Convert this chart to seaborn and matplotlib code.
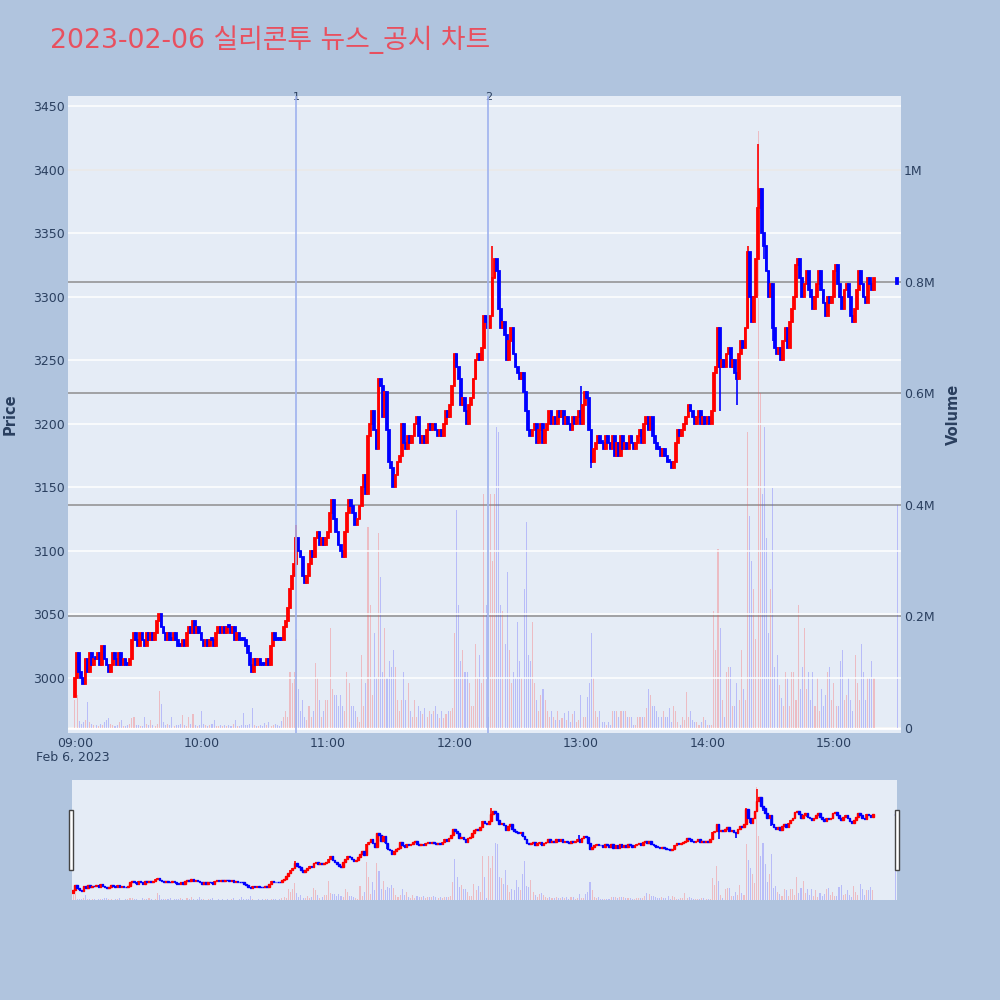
import numpy as np
import pandas as pd
import seaborn as sns
import matplotlib.pyplot as plt
from matplotlib.patches import Rectangle
import matplotlib.transforms as mtransforms

sns.set_theme(style="darkgrid")
plt.rcParams['font.family'] = ['DejaVu Sans', 'Noto Sans CJK KR']

title = "2023-02-06 실리콘투 뉴스_공시 차트"
session_start = "2023-02-06 09:00"
first_open = 2985

# 1-minute closes from 09:00
close_px = [
    3000, 3020, 3005, 3000, 2995, 3015, 3005, 3020, 3010, 3015,
    3015, 3020, 3010, 3025, 3015, 3010, 3005, 3010, 3020, 3015,
    3010, 3020, 3010, 3015, 3010, 3010, 3015, 3030, 3035, 3030,
    3025, 3035, 3030, 3025, 3035, 3030, 3035, 3030, 3035, 3045,
    3050, 3040, 3035, 3030, 3035, 3030, 3030, 3035, 3030, 3025,
    3025, 3030, 3025, 3035, 3040, 3035, 3045, 3035, 3040, 3035,
    3030, 3025, 3030, 3025, 3030, 3030, 3025, 3035, 3040, 3035,
    3040, 3035, 3040, 3040, 3035, 3040, 3030, 3035, 3030, 3030,
    3030, 3025, 3020, 3010, 3005, 3015, 3010, 3015, 3010, 3010,
    3010, 3015, 3010, 3025, 3035, 3030, 3030, 3030, 3030, 3040,
    3045, 3055, 3070, 3080, 3090, 3110, 3100, 3095, 3080, 3075,
    3080, 3090, 3100, 3095, 3110, 3115, 3105, 3110, 3105, 3110,
    3115, 3130, 3140, 3125, 3115, 3105, 3100, 3095, 3115, 3130,
    3140, 3135, 3130, 3120, 3125, 3135, 3150, 3160, 3145, 3190,
    3200, 3210, 3195, 3180, 3235, 3230, 3205, 3225, 3195, 3170,
    3165, 3150, 3160, 3170, 3175, 3200, 3185, 3180, 3190, 3185,
    3190, 3200, 3205, 3190, 3185, 3190, 3185, 3195, 3200, 3195,
    3200, 3195, 3190, 3195, 3190, 3200, 3210, 3205, 3215, 3230,
    3255, 3245, 3235, 3215, 3220, 3210, 3200, 3215, 3220, 3235,
    3250, 3255, 3250, 3260, 3285, 3280, 3275, 3285, 3315, 3330,
    3320, 3290, 3275, 3280, 3270, 3250, 3265, 3275, 3255, 3245,
    3240, 3235, 3240, 3225, 3210, 3195, 3190, 3195, 3200, 3185,
    3195, 3200, 3185, 3195, 3200, 3210, 3200, 3205, 3200, 3210,
    3205, 3210, 3200, 3205, 3200, 3195, 3205, 3200, 3205, 3210,
    3200, 3215, 3225, 3220, 3195, 3170, 3180, 3185, 3190, 3185,
    3185, 3180, 3190, 3185, 3180, 3190, 3175, 3185, 3175, 3190,
    3180, 3185, 3180, 3190, 3185, 3180, 3185, 3190, 3195, 3185,
    3200, 3205, 3195, 3205, 3190, 3185, 3180, 3180, 3175, 3180,
    3175, 3170, 3170, 3165, 3170, 3185, 3195, 3190, 3195, 3200,
    3205, 3215, 3210, 3205, 3200, 3205, 3210, 3200, 3205, 3200,
    3205, 3200, 3210, 3240, 3245, 3275, 3245, 3250, 3245, 3255,
    3260, 3245, 3250, 3240, 3235, 3255, 3265, 3260, 3275, 3335,
    3300, 3280, 3300, 3330, 3370, 3385, 3350, 3340, 3320, 3300,
    3310, 3275, 3260, 3255, 3260, 3250, 3265, 3275, 3260, 3280,
    3290, 3300, 3325, 3330, 3315, 3300, 3310, 3320, 3305, 3300,
    3290, 3300, 3310, 3320, 3305, 3295, 3285, 3300, 3295, 3300,
    3320, 3325, 3310, 3300, 3290, 3305, 3310, 3300, 3285, 3280,
    3290, 3305, 3320, 3310, 3300, 3295, 3315, 3310, 3305, 3315,
]

# 1-minute volume, thousands of shares
volume_k = [
    50, 60, 12, 8, 10, 15, 47, 10, 8, 6,
    5, 4, 8, 6, 10, 15, 18, 8, 5, 4,
    6, 10, 15, 4, 3, 5, 8, 18, 20, 6,
    5, 4, 3, 20, 8, 5, 15, 6, 4, 8,
    66, 43, 10, 6, 8, 5, 20, 4, 6, 5,
    8, 23, 6, 4, 20, 8, 25, 5, 4, 6,
    30, 8, 5, 4, 6, 8, 15, 4, 3, 5,
    4, 6, 3, 5, 4, 8, 15, 3, 4, 5,
    27, 6, 5, 8, 36, 6, 4, 3, 5, 4,
    9, 5, 10, 4, 6, 8, 5, 4, 12, 20,
    30, 20, 100, 80, 100, 160, 70, 30, 50, 20,
    15, 40, 20, 30, 116, 90, 50, 20, 30, 50,
    50, 180, 70, 60, 60, 40, 60, 40, 30, 100,
    80, 40, 40, 30, 20, 10, 130, 40, 80, 360,
    220, 60, 170, 90, 350, 270, 100, 180, 90, 120,
    110, 140, 110, 50, 30, 50, 100, 50, 80, 30,
    20, 50, 20, 40, 30, 25, 35, 20, 30, 25,
    30, 40, 25, 18, 30, 18, 25, 30, 30, 35,
    170, 390, 220, 120, 140, 100, 100, 80, 40, 40,
    150, 90, 130, 80, 420, 220, 20, 420, 300, 420,
    540, 530, 220, 210, 150, 280, 140, 80, 100, 90,
    190, 120, 90, 250, 370, 130, 120, 190, 80, 50,
    30, 60, 70, 50, 30, 20, 30, 20, 15, 30,
    15, 18, 27, 15, 30, 10, 25, 30, 10, 15,
    60, 20, 20, 55, 80, 170, 90, 30, 20, 30,
    10, 10, 5, 10, 5, 30, 30, 30, 20, 30,
    30, 30, 20, 20, 20, 5, 5, 20, 20, 20,
    20, 35, 70, 60, 40, 40, 30, 20, 20, 30,
    20, 20, 35, 10, 40, 30, 10, 5, 20, 15,
    65, 20, 30, 15, 10, 10, 5, 10, 20, 15,
    5, 5, 5, 210, 140, 320, 180, 50, 20, 100,
    110, 110, 40, 40, 80, 50, 140, 70, 50, 530,
    380, 300, 250, 160, 1070, 600, 420, 540, 340, 170,
    250, 430, 110, 130, 77, 54, 40, 100, 90, 40,
    100, 100, 50, 220, 70, 110, 180, 70, 100, 50,
    100, 40, 90, 30, 70, 40, 60, 100, 110, 50,
    80, 40, 40, 120, 140, 50, 60, 90, 50, 30,
    130, 80, 50, 150, 100, 50, 90, 90, 120, 90,
]

# closing auction print
auction_time = "2023-02-06 15:30"
auction_close = 3310
auction_volume_k = 400

# wicks beyond the bodies
wick_high = {"10:45": 3120, "12:18": 3340, "13:00": 3230, "14:19": 3340, "14:24": 3420}
wick_low = {"09:00": 2985, "13:05": 3165, "14:06": 3210, "14:14": 3215, "14:27": 3330, "14:31": 3265}

news_times = ["10:45", "12:16"]
news_labels = ["1", "2"]

price_ticks = [3000, 3050, 3100, 3150, 3200, 3250, 3300, 3350, 3400, 3450]
vol_ticks = [0, 200000, 400000, 600000, 800000, 1000000]
vol_tick_labels = ["0", "0.2M", "0.4M", "0.6M", "0.8M", "1M"]
hour_labels = ["09:00", "10:00", "11:00", "12:00", "13:00", "14:00", "15:00"]

# ---- build the table
t0 = pd.Timestamp(session_start)
times = list(pd.date_range(t0, periods=len(close_px), freq="min")) + [pd.Timestamp(auction_time)]
df = pd.DataFrame({
    "time": times,
    "close": close_px + [auction_close],
    "volume": [v * 1000 for v in volume_k + [auction_volume_k]],
})
df["open"] = df["close"].shift(1).fillna(first_open)
df["high"] = df[["open", "close"]].max(axis=1)
df["low"] = df[["open", "close"]].min(axis=1)
hhmm = df["time"].dt.strftime("%H:%M")
for k, v in wick_high.items():
    df.loc[hhmm == k, "high"] = v
for k, v in wick_low.items():
    df.loc[hhmm == k, "low"] = v
df["x"] = (df["time"] - t0).dt.total_seconds() / 60
df["up"] = df["close"] > df["open"]

UP, DOWN = "#ff0000", "#0000ff"
BG = "#b0c4de"
PLOT_BG = "#e5ecf6"
FONT_C = "#2a3f5f"

colors = np.where(df["up"], UP, DOWN)
vol_colors = np.where(df["up"], "#ff5050", "#5050ff")

def to_min(hm):
    return (pd.Timestamp(f"2023-02-06 {hm}") - t0).total_seconds() / 60


def draw(ax_vol, ax_px, body_w, lw):
    ax_vol.bar(df["x"], df["volume"], width=0.5, color=vol_colors, alpha=0.3, linewidth=0, zorder=2)
    body = (df["close"] - df["open"]).abs().clip(lower=1.5)
    ax_px.vlines(df["x"], df["low"], df["high"], colors=colors, linewidth=1.2, zorder=3)
    ax_px.bar(df["x"], body, bottom=df[["open", "close"]].min(axis=1), width=body_w,
              color=colors, edgecolor=colors, linewidth=lw, zorder=4)


fig = plt.figure(figsize=(10, 10), dpi=100)
fig.patch.set_facecolor(BG)

PY_LIM = (2956.7, 3457.9)
VY_LIM = (-9000, 1133000)

# ---- main panel
ax_vol = fig.add_axes([0.068, 0.267, 0.833, 0.637])
ax_px = ax_vol.twinx()
ax_vol.set_facecolor(PLOT_BG)
draw(ax_vol, ax_px, 0.85, 1.3)

ax_px.set_ylim(*PY_LIM)
ax_vol.set_ylim(*VY_LIM)
for a in (ax_vol, ax_px):
    a.set_xlim(-3.3, 391.8)
    for s in a.spines.values():
        s.set_visible(False)
    a.set_axisbelow(True)

ax_px.yaxis.tick_left()
ax_px.yaxis.set_label_position("left")
ax_vol.yaxis.tick_right()
ax_vol.yaxis.set_label_position("right")

ax_px.set_yticks(price_ticks)
ax_px.set_yticklabels([str(p) for p in price_ticks])
ax_px.grid(axis="y", color="white", linewidth=1.1)
ax_px.grid(axis="x", visible=False)
ax_vol.set_yticks(vol_ticks)
ax_vol.set_yticklabels(vol_tick_labels)
ax_vol.grid(axis="y", color="#8e8e8e", linewidth=1.1)
ax_vol.grid(axis="x", visible=False)
ax_vol.axhline(0, color="white", linewidth=2, zorder=1)

ax_vol.set_xticks([to_min(h) for h in hour_labels])
ax_vol.set_xticklabels(hour_labels)
ax_px.tick_params(axis="x", length=0, labelbottom=False)
ax_vol.tick_params(axis="x", length=0, pad=3, labelsize=9, labelcolor=FONT_C)
ax_px.tick_params(axis="y", length=0, pad=2, labelsize=9, labelcolor=FONT_C)
ax_vol.tick_params(axis="y", length=0, pad=2, labelsize=9, labelcolor=FONT_C)

ax_px.set_ylabel("Price", fontsize=10.5, fontweight="bold", color=FONT_C)
ax_px.yaxis.set_label_coords(-0.061, 0.5)
ax_vol.set_ylabel("Volume", fontsize=10.5, fontweight="bold", color=FONT_C, rotation=90)
ax_vol.yaxis.set_label_coords(1.054, 0.5)

trans = mtransforms.blended_transform_factory(ax_px.transData, ax_px.transAxes)
for t, lab in zip(news_times, news_labels):
    xm = to_min(t)
    ax_px.axvline(xm, color="#9fb2ee", linewidth=1.2, zorder=5)
    ax_px.text(xm, 0.999, lab, transform=trans, ha="center", va="center",
               fontsize=8, color=FONT_C)

fig.text(0.073, 1 - 0.758, "Feb 6, 2023", ha="center", va="center", fontsize=9, color=FONT_C)
fig.text(0.05, 1 - 0.040, title, ha="left", va="center", fontsize=19.3, color="#e8505f")

# ---- range slider
sl_vol = fig.add_axes([0.072, 0.100, 0.825, 0.120])
sl_px = sl_vol.twinx()
sl_vol.set_facecolor(PLOT_BG)
draw(sl_vol, sl_px, 0.75, 1.0)
sl_px.set_ylim(*PY_LIM)
sl_vol.set_ylim(0, VY_LIM[1])
for a in (sl_vol, sl_px):
    a.set_xlim(-0.5, 390.5)
    a.set_xticks([])
    a.set_yticks([])
    a.grid(False)
    for s in a.spines.values():
        s.set_visible(False)

for hx in (0.069, 0.895):
    fig.patches.append(Rectangle((hx, 0.130), 0.004, 0.060, transform=fig.transFigure,
                                 facecolor="white", edgecolor="#444444", linewidth=1))

fig.savefig("out.png", dpi=100, facecolor=BG)
